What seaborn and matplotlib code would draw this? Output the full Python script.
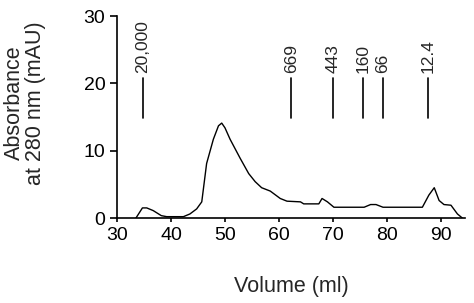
import matplotlib
matplotlib.use("Agg")
import matplotlib.pyplot as plt
import seaborn as sns
import pandas as pd

volume = [33.5, 34.7, 35.5, 36.7, 38.2, 39.2, 42.3, 43.5, 44.75, 45.7, 46.6, 47.85,
          48.8, 49.4, 50.0, 50.95, 52.8, 54.4, 55.6, 56.8, 58.4, 60.25, 61.5, 64.0,
          64.6, 67.4, 68.0, 69.0, 70.2, 75.8, 77.0, 78.0, 79.3, 86.6, 87.8, 88.8,
          89.7, 90.6, 91.9, 93.1, 94.0]
absorbance = [0.0, 1.5, 1.5, 1.1, 0.35, 0.2, 0.2, 0.6, 1.35, 2.4, 8.1, 11.7,
              13.7, 14.1, 13.4, 11.7, 8.9, 6.6, 5.4, 4.5, 4.0, 2.9, 2.5, 2.4,
              2.1, 2.1, 2.9, 2.4, 1.6, 1.6, 2.0, 2.0, 1.6, 1.6, 3.4, 4.5,
              2.6, 2.0, 1.9, 0.6, 0.0]

marker_pos = [34.8, 62.3, 70.0, 75.6, 79.3, 87.7]
marker_labels = ["20,000", "669", "443", "160", "66", "12.4"]

sns.set_style("ticks")
plt.rcParams['font.family'] = ['Liberation Sans', 'DejaVu Sans']

fig = plt.figure(figsize=(4.74, 3.03), dpi=100)
ax = fig.add_axes([0.247, 0.2805, 0.734, 0.6665])

df = pd.DataFrame({"Volume": volume, "Absorbance": absorbance})
sns.lineplot(data=df, x="Volume", y="Absorbance", ax=ax, color="black", linewidth=1.0)

for xp, lab in zip(marker_pos, marker_labels):
    ax.plot([xp, xp], [14.9, 20.8], color="black", linewidth=1.2)
    ax.text(xp, 21.6, lab, rotation=90, ha="center", va="bottom", fontsize=12.5)

ax.set_xlim(30, 94.5)
ax.set_ylim(0, 30)
ax.set_xticks([30, 40, 50, 60, 70, 80, 90])
ax.set_yticks([0, 10, 20, 30])
ax.tick_params(axis="both", labelsize=14, colors="black", width=1.2)
ax.tick_params(axis="y", length=5)
ax.tick_params(axis="x", length=3)
for s in ["left", "bottom"]:
    ax.spines[s].set_color("black")
    ax.spines[s].set_linewidth(1.2)
sns.despine(ax=ax)

ax.set_xlabel("Volume (ml)", fontsize=15.5, labelpad=23)
ax.set_ylabel("Absorbance\nat 280 nm (mAU)", fontsize=15.5, linespacing=1.0)
ax.yaxis.set_label_coords(-0.205, 0.57)

fig.savefig("out.png", dpi=100)
